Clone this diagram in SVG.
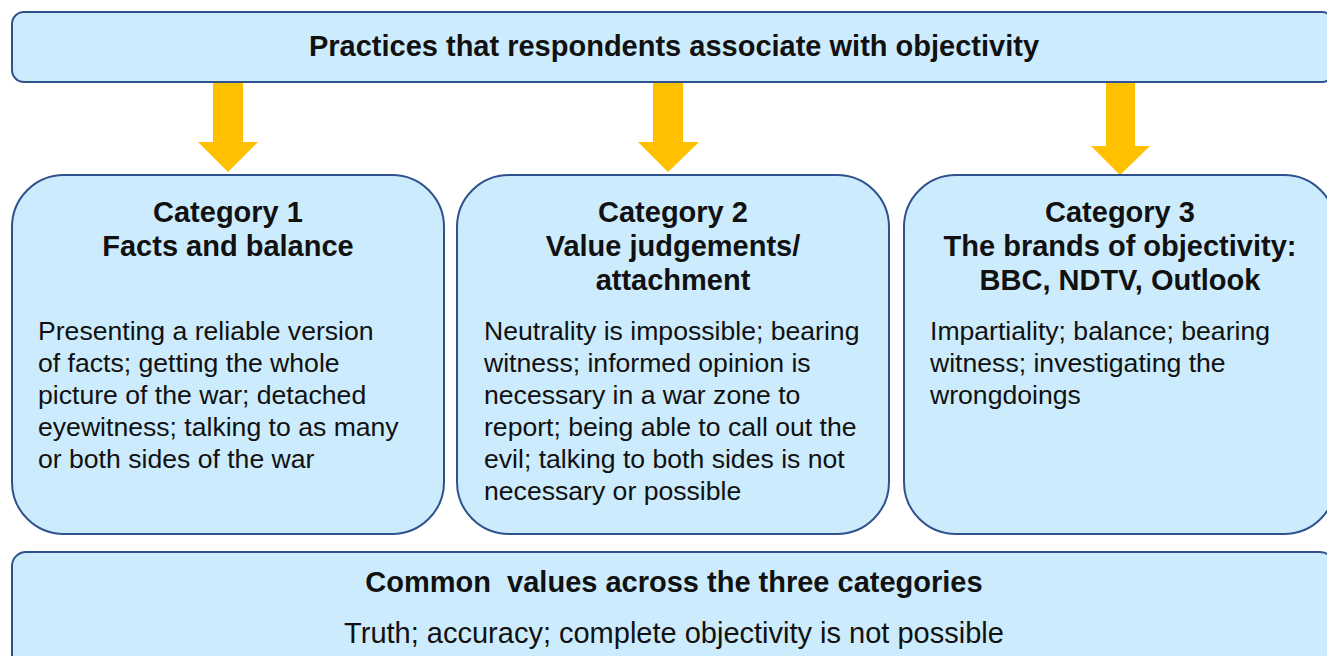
<svg xmlns="http://www.w3.org/2000/svg" width="1327" height="656" viewBox="0 0 1327 656">
  <style>
    .box { fill: #CCEBFC; stroke: #2F528F; stroke-width: 2; }
    .arrow { fill: #FFC000; }
    .title { font-family: "Liberation Sans", Arial, sans-serif; font-weight: bold; font-size: 29px; fill: #111; text-anchor: middle; }
    .body { font-family: "Liberation Sans", Arial, sans-serif; font-size: 26.6px; fill: #111; }
    .foot { font-family: "Liberation Sans", Arial, sans-serif; font-size: 29px; fill: #111; text-anchor: middle; }
  </style>
  <rect width="1327" height="656" fill="#FFFFFF"/>

  <g id="top">
    <rect class="box" x="12" y="12" width="1322" height="70" rx="12"/>
    <text class="title" x="674" y="56">Practices that respondents associate with objectivity</text>
  </g>

  <g id="connectors">
    <polygon class="arrow" points="213,83 243,83 243,142 258,142 228,172 198,142 213,142"/>
    <polygon class="arrow" points="653,83 683,83 683,142 699,142 668,172 638,142 653,142"/>
    <polygon class="arrow" points="1106,83 1135,83 1135,146 1150,146 1120,175 1091,146 1106,146"/>
  </g>

  <g id="category1">
    <rect class="box" x="12" y="175" width="432" height="359" rx="52"/>
    <text class="title" x="228" y="222">Category 1</text>
    <text class="title" x="228" y="256">Facts and balance</text>
    <text class="body">
      <tspan x="38" y="340">Presenting a reliable version</tspan>
      <tspan x="38" y="372">of facts; getting the whole</tspan>
      <tspan x="38" y="404">picture of the war; detached</tspan>
      <tspan x="38" y="436">eyewitness; talking to as many</tspan>
      <tspan x="38" y="468">or both sides of the war</tspan>
    </text>
  </g>

  <g id="category2">
    <rect class="box" x="457" y="175" width="432" height="359" rx="52"/>
    <text class="title" x="673" y="222">Category 2</text>
    <text class="title" x="673" y="256">Value judgements/</text>
    <text class="title" x="673" y="290">attachment</text>
    <text class="body">
      <tspan x="484" y="340">Neutrality is impossible; bearing</tspan>
      <tspan x="484" y="372">witness; informed opinion is</tspan>
      <tspan x="484" y="404">necessary in a war zone to</tspan>
      <tspan x="484" y="436">report; being able to call out the</tspan>
      <tspan x="484" y="468">evil; talking to both sides is not</tspan>
      <tspan x="484" y="500">necessary or possible</tspan>
    </text>
  </g>

  <g id="category3">
    <rect class="box" x="904" y="175" width="432" height="359" rx="52"/>
    <text class="title" x="1120" y="222">Category 3</text>
    <text class="title" x="1120" y="256">The brands of objectivity:</text>
    <text class="title" x="1120" y="290">BBC, NDTV, Outlook</text>
    <text class="body">
      <tspan x="930" y="340">Impartiality; balance; bearing</tspan>
      <tspan x="930" y="372">witness; investigating the</tspan>
      <tspan x="930" y="404">wrongdoings</tspan>
    </text>
  </g>

  <g id="common">
    <rect class="box" x="12" y="552" width="1322" height="120" rx="14"/>
    <text class="title" x="674" y="592" xml:space="preserve">Common  values across the three categories</text>
    <text class="foot" x="674" y="643">Truth; accuracy; complete objectivity is not possible</text>
  </g>
</svg>
